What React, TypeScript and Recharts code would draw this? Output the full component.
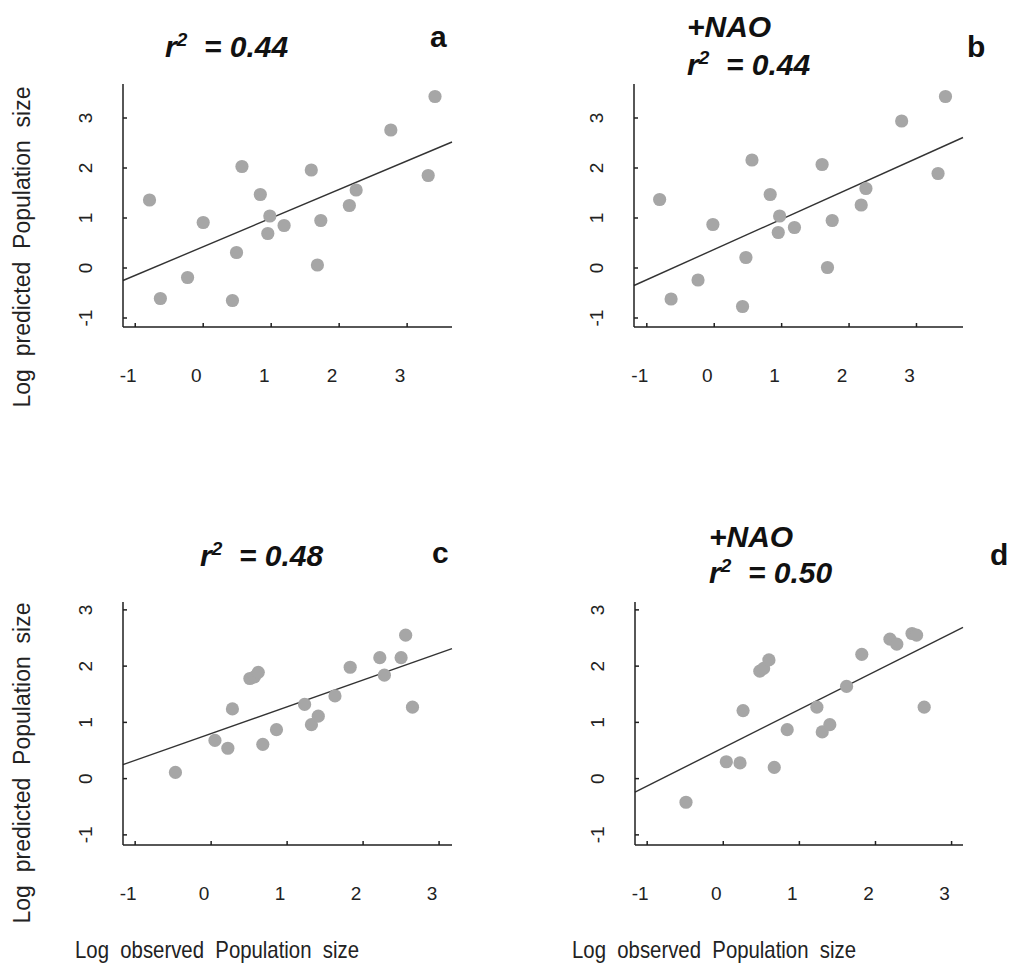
import { ScatterChart, Scatter, XAxis, YAxis, ReferenceLine } from "recharts"

const FONT = "'Liberation Sans', Arial, Helvetica, sans-serif"

const ticks = [-1, 0, 1, 2, 3]

// panel a
const obsA = [-0.79, -0.63, -0.23, 0.0, 0.49, 0.43, 0.57, 0.84, 0.98, 0.95, 1.19, 1.59, 1.73, 1.68, 2.25, 2.15, 2.76, 3.31, 3.41]
const predA = [1.36, -0.61, -0.19, 0.91, 0.31, -0.65, 2.03, 1.47, 1.04, 0.69, 0.85, 1.96, 0.95, 0.06, 1.56, 1.25, 2.76, 1.85, 3.43]
const fitXA = [-1.18, 3.66]
const fitYA = [-0.25, 2.52]

// panel b (+NAO)
const obsB = [-0.81, -0.64, -0.24, -0.02, 0.47, 0.42, 0.56, 0.83, 0.97, 0.95, 1.19, 1.6, 1.75, 1.68, 2.25, 2.18, 2.78, 3.32, 3.43]
const predB = [1.37, -0.62, -0.24, 0.87, 0.21, -0.77, 2.16, 1.47, 1.04, 0.71, 0.81, 2.07, 0.95, 0.01, 1.59, 1.26, 2.94, 1.89, 3.43]
const fitXB = [-1.19, 3.69]
const fitYB = [-0.35, 2.61]

// panel c
const obsC = [-0.47, 0.05, 0.22, 0.28, 0.68, 0.86, 0.51, 0.57, 0.62, 1.23, 1.32, 1.41, 1.63, 1.83, 2.22, 2.28, 2.5, 2.56, 2.65]
const predC = [0.11, 0.68, 0.54, 1.24, 0.61, 0.87, 1.78, 1.81, 1.89, 1.32, 0.96, 1.11, 1.47, 1.98, 2.15, 1.84, 2.15, 2.55, 1.27]
const fitXC = [-1.16, 3.17]
const fitYC = [0.25, 2.31]

// panel d (+NAO)
const obsD = [-0.49, 0.04, 0.22, 0.26, 0.67, 0.84, 0.48, 0.53, 0.6, 1.23, 1.3, 1.4, 1.62, 1.82, 2.19, 2.28, 2.48, 2.54, 2.64]
const predD = [-0.42, 0.3, 0.28, 1.21, 0.2, 0.87, 1.91, 1.96, 2.11, 1.27, 0.83, 0.96, 1.64, 2.21, 2.48, 2.39, 2.58, 2.55, 1.27]
const fitXD = [-1.16, 3.15]
const fitYD = [-0.24, 2.69]

// r2 lines are drawn as r + superscript 2 + the rest
const titleA = [{ pre: "", r2: "  = 0.44" }]
const titleB = [{ pre: "+NAO" }, { pre: "", r2: "  = 0.44" }]
const titleC = [{ pre: "", r2: "  = 0.48" }]
const titleD = [{ pre: "+NAO" }, { pre: "", r2: "  = 0.50" }]

const yLabel = "Log  predicted  Population  size"
const xLabel = "Log  observed  Population  size"

const toPoints = (xs: number[], ys: number[]) => xs.map((x, i) => ({ x, y: ys[i] }))

const panels = [
  {
    letter: "a", obs: obsA, pred: predA, fitX: fitXA, fitY: fitYA, title: titleA,
    xDomain: [-1.18, 3.66], yDomain: [-1.18, 3.68],
    box: { left: 123, top: 84, right: 452, bottom: 327 },
    titlePos: { x: 165, y: [57] }, letterPos: { x: 430, y: 47 },
  },
  {
    letter: "b", obs: obsB, pred: predB, fitX: fitXB, fitY: fitYB, title: titleB,
    xDomain: [-1.19, 3.69], yDomain: [-1.18, 3.68],
    box: { left: 634, top: 84, right: 963, bottom: 327 },
    titlePos: { x: 687, y: [37, 75] }, letterPos: { x: 967, y: 57 },
  },
  {
    letter: "c", obs: obsC, pred: predC, fitX: fitXC, fitY: fitYC, title: titleC,
    xDomain: [-1.16, 3.17], yDomain: [-1.18, 3.14],
    box: { left: 123, top: 602, right: 452, bottom: 845 },
    titlePos: { x: 200, y: [566] }, letterPos: { x: 432, y: 563 },
  },
  {
    letter: "d", obs: obsD, pred: predD, fitX: fitXD, fitY: fitYD, title: titleD,
    xDomain: [-1.16, 3.15], yDomain: [-1.18, 3.14],
    box: { left: 635, top: 602, right: 963, bottom: 845 },
    titlePos: { x: 709, y: [547, 583] }, letterPos: { x: 990, y: 565 },
  },
]

const axisStyle = { stroke: "#1f1f1f", strokeWidth: 1.5 }

function Dot(props: any) {
  return <circle cx={props.cx} cy={props.cy} r={6.6} fill="#a6a6a6" />
}

function XTick(props: any) {
  const { x, y, payload } = props
  return (
    <text x={x - 7} y={y} dy="0.35em" textAnchor="middle" fontSize={19} fontFamily={FONT} fill="#222">
      {payload.value}
    </text>
  )
}

function YTick(props: any) {
  const { x, y, payload } = props
  return (
    <text
      x={x}
      y={y}
      dy="0.35em"
      textAnchor="middle"
      transform={`rotate(-90 ${x} ${y})`}
      fontSize={19}
      fontFamily={FONT}
      fill="#222"
    >
      {payload.value}
    </text>
  )
}

function Panel({ panel }: { panel: (typeof panels)[number] }) {
  const { box } = panel
  const width = box.right - box.left + 90
  const height = box.bottom - box.top + 90
  const points = toPoints(panel.obs, panel.pred)
  return (
    <div style={{ position: "absolute", left: box.left - 70, top: box.top - 20 }}>
      <ScatterChart width={width} height={height} margin={{ top: 20, right: 20, left: 20, bottom: 20 }}>
        <XAxis
          type="number"
          dataKey="x"
          domain={panel.xDomain}
          ticks={ticks}
          allowDataOverflow
          height={50}
          tickSize={-4}
          tickMargin={52}
          tick={(p: any) => <XTick {...p} />}
          axisLine={axisStyle}
          tickLine={axisStyle}
        />
        <YAxis
          type="number"
          dataKey="y"
          domain={panel.yDomain}
          ticks={ticks}
          allowDataOverflow
          width={50}
          tickSize={-4}
          tickMargin={42}
          tick={(p: any) => <YTick {...p} />}
          axisLine={axisStyle}
          tickLine={axisStyle}
        />
        <Scatter data={points} shape={<Dot />} isAnimationActive={false} />
        <ReferenceLine
          segment={[
            { x: panel.fitX[0], y: panel.fitY[0] },
            { x: panel.fitX[1], y: panel.fitY[1] },
          ]}
          stroke="#333"
          strokeWidth={1.4}
          ifOverflow="visible"
        />
      </ScatterChart>
    </div>
  )
}

function App() {
  return (
    <div style={{ position: "relative", width: 1009, height: 963, background: "#fff" }}>
      <style>{"body{margin:0}"}</style>
      <svg width={1009} height={963} style={{ position: "absolute", left: 0, top: 0 }}>
        {panels.map((p) => (
          <g key={p.letter} fontFamily={FONT} fill="#111">
            {p.title.map((line: any, i) => (
              <text
                key={i}
                x={p.titlePos.x}
                y={p.titlePos.y[i]}
                fontSize={30}
                fontWeight="bold"
                fontStyle="italic"
                style={{ whiteSpace: "pre" }}
              >
                {line.r2 ? (
                  <>
                    <tspan>r</tspan>
                    <tspan fontSize={19} dy={-11}>2</tspan>
                    <tspan dy={11}>{line.r2}</tspan>
                  </>
                ) : (
                  line.pre
                )}
              </text>
            ))}
            <text x={p.letterPos.x} y={p.letterPos.y} fontSize={30} fontWeight="bold">
              {p.letter}
            </text>
          </g>
        ))}
        {[247, 763].map((cy) => (
          <text
            key={cy}
            x={29.5}
            y={cy}
            textAnchor="middle"
            transform={`rotate(-90 29.5 ${cy})`}
            fontSize={23}
            fontFamily={FONT}
            fill="#222"
            style={{ whiteSpace: "pre" }}
          >
            {yLabel}
          </text>
        ))}
        {[75, 572].map((x0) => (
          <text
            key={x0}
            x={x0}
            y={958}
            fontSize={24}
            fontFamily={FONT}
            fill="#222"
            textLength={284}
            lengthAdjust="spacingAndGlyphs"
            style={{ whiteSpace: "pre" }}
          >
            {xLabel}
          </text>
        ))}
      </svg>
      {panels.map((p) => (
        <Panel key={p.letter} panel={p} />
      ))}
    </div>
  )
}

export default App
